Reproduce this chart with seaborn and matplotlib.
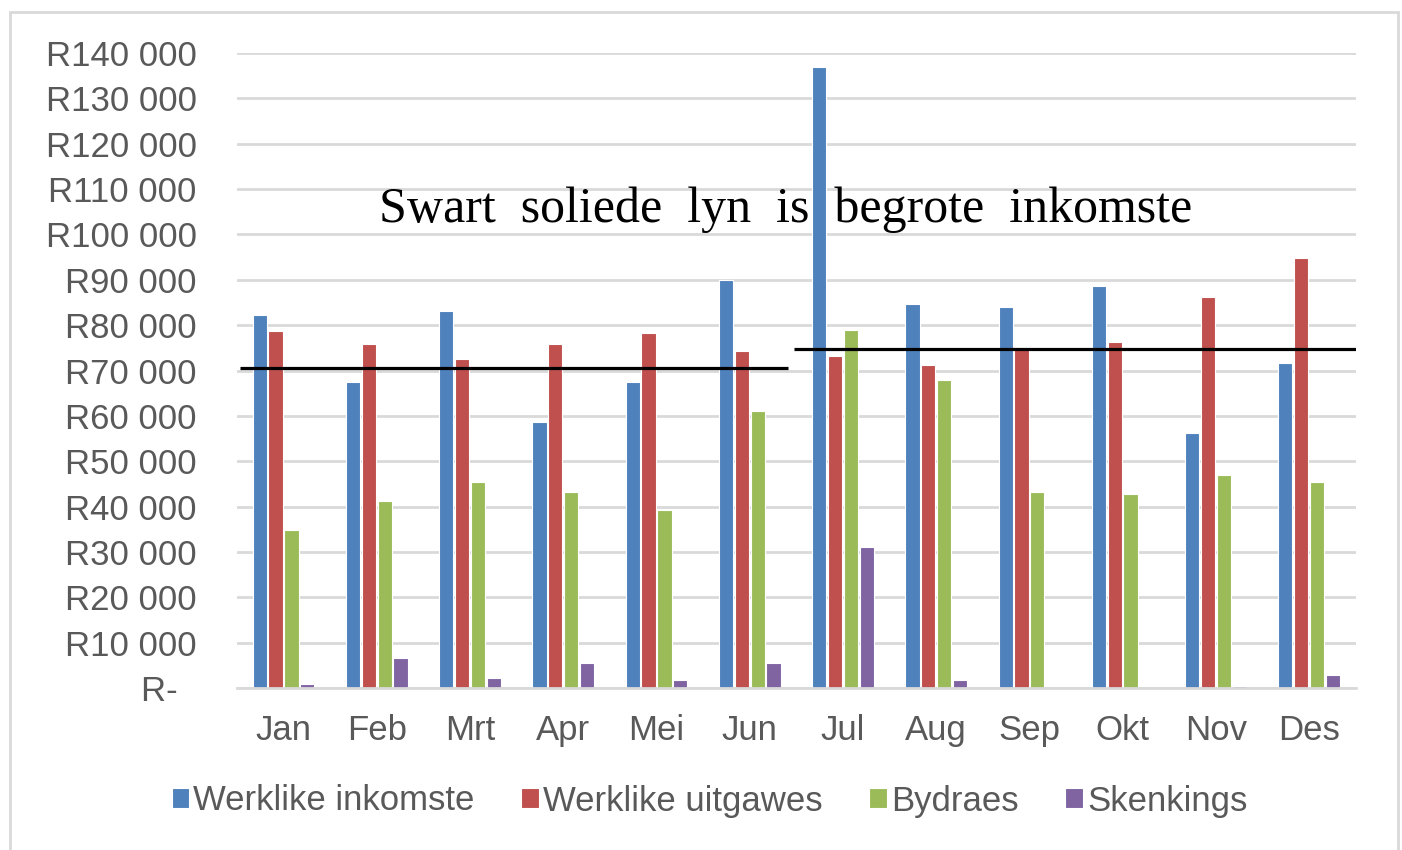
import numpy as np
import pandas as pd
import seaborn as sns
import matplotlib
matplotlib.use("Agg")
import matplotlib.pyplot as plt
from matplotlib.ticker import FuncFormatter
from matplotlib.patches import Rectangle

# data
maande = ["Jan", "Feb", "Mrt", "Apr", "Mei", "Jun", "Jul", "Aug", "Sep", "Okt", "Nov", "Des"]
inkomste = [82300, 67400, 83200, 58700, 67400, 89900, 136900, 84600, 83900, 88700, 56200, 71600]
uitgawes = [78700, 75900, 72600, 75900, 78300, 74200, 73300, 71200, 75100, 76200, 86300, 94800]
bydraes = [34800, 41300, 45400, 43300, 39200, 61100, 79000, 67900, 43300, 42800, 46900, 45400]
skenkings = [900, 6600, 2200, 5500, 1800, 5500, 31100, 1800, 0, 0, 500, 2900]
reekse = ["Werklike inkomste", "Werklike uitgawes", "Bydraes", "Skenkings"]
kleure = ["#4F81BD", "#C0504D", "#9BBB59", "#8064A2"]
begroot_h1 = 70600   # Jan - Jun
begroot_h2 = 74800   # Jul - Des

df = pd.DataFrame({"maand": maande, reekse[0]: inkomste, reekse[1]: uitgawes,
                   reekse[2]: bydraes, reekse[3]: skenkings})
df = df.melt(id_vars="maand", var_name="reeks", value_name="bedrag")

sns.set_theme(style="white")
plt.rcParams["font.family"] = ["Liberation Sans", "DejaVu Sans"]

fig = plt.figure(figsize=(14.02, 8.5), dpi=100)
ax = fig.add_axes([0.169, 0.1906, 0.798, 0.747])

sns.barplot(data=df, x="maand", y="bedrag", hue="reeks", palette=kleure,
            width=0.68, gap=0.1, edgecolor="white", linewidth=0.8,
            saturation=1, ax=ax)

# budget lines
ax.hlines(begroot_h1, -0.47, 5.41, color="black", linewidth=2.3, zorder=5)
ax.hlines(begroot_h2, 5.48, 11.5, color="black", linewidth=2.3, zorder=5)

ax.text(5.39, 105400, "Swart  soliede  lyn  is  begrote  inkomste", ha="center", va="center",
        fontsize=36, family=["Liberation Serif", "DejaVu Serif"], color="black", zorder=6)

ax.set_ylim(0, 140000)
ax.set_xlim(-0.5, 11.5)
ax.set_yticks(np.arange(0, 140001, 10000))


def rand(v, pos):
    if v == 0:
        return "R-  "
    return "R" + f"{int(v):,}".replace(",", " ")


ax.yaxis.set_major_formatter(FuncFormatter(rand))
ax.yaxis.grid(True, color="#D9D9D9", linewidth=2)
ax.set_axisbelow(True)
ax.tick_params(axis="y", length=0, pad=29, labelsize=25, labelcolor="#595959")
ax.tick_params(axis="x", length=0, pad=19, labelsize=25, labelcolor="#595959")
ax.set_xlabel("")
ax.set_ylabel("")
for s in ["top", "right", "left"]:
    ax.spines[s].set_visible(False)
ax.spines["bottom"].set_color("#D9D9D9")
ax.spines["bottom"].set_linewidth(2)

handles, labels = ax.get_legend_handles_labels()
ax.get_legend().remove()
fig.legend(handles, labels, loc="center", bbox_to_anchor=(0.506, 1 - 801 / 850), ncol=4,
           frameon=False, fontsize=25, handlelength=0.5, handleheight=0.5,
           handletextpad=0.12, columnspacing=1.35, labelcolor="#595959")

# outer chart border
fig.patches.append(Rectangle((10 / 1402, -0.05), 1388 / 1402, 1.05 - 12 / 850,
                             transform=fig.transFigure, fill=False,
                             edgecolor="#D9D9D9", linewidth=2))

fig.savefig("out.png", dpi=100)
